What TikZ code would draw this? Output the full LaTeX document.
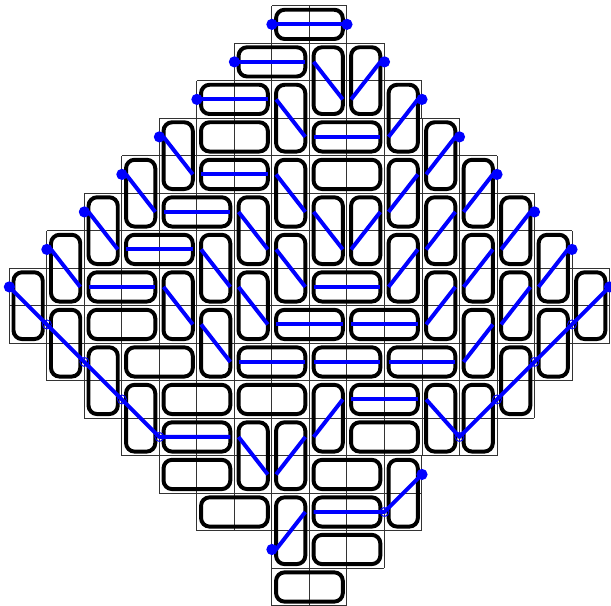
\documentclass[tikz,border=0pt]{standalone}
\usepackage{tikz}

\begin{document}
\begin{tikzpicture}[
    cellline/.style={black!80,line width=0.7pt},
    domino/.style={line width=3pt,rounded corners=6.5pt},
    pathline/.style={blue,line width=3pt,line join=round},
    opendot/.style={draw=blue,line width=0.7pt}]
  \useasboundingbox (-8.25,-8) rectangle (8.04,8.15);
  % cells of the region, row by row
  \foreach \y/\a/\b in {7/-1/1,6/-2/2,5/-3/3,4/-4/4,3/-5/5,2/-6/6,1/-7/7,0/-8/8,
      -1/-8/8,-2/-7/7,-3/-6/6,-4/-5/5,-5/-4/3,-6/-3/3,-7/-1/2,-8/-1/1} {
    \draw[cellline] (\a,\y) grid (\b,\y+1);
  }
  % horizontal dominoes
  \foreach \x/\y in {-1/7,-2/6,-3/5,-3/4,0/4,-3/3,0/3,-4/2,-5/1,-6/0,0/0,
      -6/-1,-1/-1,1/-1,-5/-2,-2/-2,0/-2,2/-2,-4/-3,-2/-3,1/-3,-4/-4,1/-4,
      -4/-5,0/-5,-3/-6,0/-6,0/-7,-1/-8} {
    \draw[domino] (\x+0.11,\y+0.11) rectangle (\x+1.89,\y+0.89);
  }
  % vertical dominoes
  \foreach \x/\y in {0/5,1/5,-1/4,2/4,-4/3,3/3,-5/2,-1/2,2/2,4/2,-6/1,-2/1,
      0/1,1/1,3/1,5/1,-7/0,-3/0,-1/0,2/0,4/0,6/0,-8/-1,-4/-1,-2/-1,3/-1,5/-1,
      7/-1,-7/-2,-3/-2,4/-2,6/-2,-6/-3,5/-3,-5/-4,0/-4,3/-4,4/-4,-2/-5,-1/-5,
      2/-6,-1/-7} {
    \draw[domino] (\x+0.11,\y+0.11) rectangle (\x+0.89,\y+1.89);
  }
  % path steps: flat, down, up
  \foreach \x/\y in {-1/7,-2/6,-3/5,0/4,-3/3,-4/2,-5/1,-6/0,0/0,-1/-1,1/-1,
      -2/-2,0/-2,2/-2,1/-3} {
    \draw[pathline] (\x+0.11,\y+0.5) -- (\x+1.89,\y+0.5);
  }
  \foreach \x/\y in {0/5,-1/4,-4/3,-5/2,-1/2,-6/1,-2/1,0/1,-7/0,-3/0,-1/0,
      -4/-1,-2/-1,-3/-2,-2/-5} {
    \draw[pathline] (\x+0.11,\y+1.5) -- (\x+0.89,\y+0.5);
  }
  \foreach \x/\y in {1/5,2/4,3/3,2/2,4/2,1/1,3/1,5/1,2/0,4/0,6/0,3/-1,5/-1,
      4/-2,0/-4,-1/-5,-1/-7} {
    \draw[pathline] (\x+0.11,\y+0.5) -- (\x+0.89,\y+1.5);
  }
  % steps along the lower boundary
  \draw[pathline] (-8,0.5) -- (-4,-3.5) -- (-2.11,-3.5);
  \draw[pathline] (3.11,-2.5) -- (4,-3.5) -- (8,0.5);
  \draw[pathline] (0.11,-5.5) -- (2,-5.5) -- (3,-4.5);
  % end points
  \foreach \k in {1,...,8} {
    \fill[blue] (-\k,8.5-\k) circle (0.15);
    \fill[blue] (\k,8.5-\k) circle (0.15);
  }
  \fill[blue] (-1,-6.5) circle (0.15);
  \fill[blue] (3,-4.5) circle (0.15);
  \foreach \x/\y in {-7/-0.5,-6/-1.5,-5/-2.5,-4/-3.5,4/-3.5,5/-2.5,6/-1.5,
      7/-0.5,2/-5.5} {
    \draw[opendot] (\x,\y) circle (0.12);
  }
\end{tikzpicture}
\end{document}
